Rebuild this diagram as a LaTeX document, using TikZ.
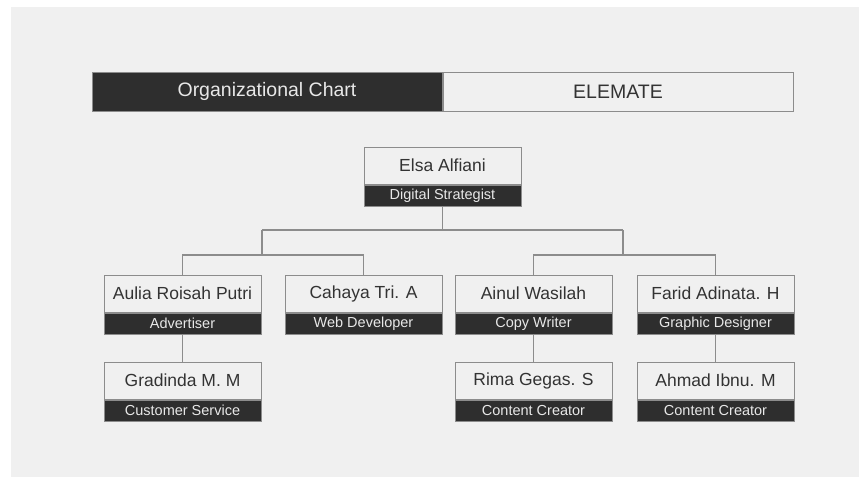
\documentclass[tikz,border=0pt]{standalone}
\usepackage{fontspec}
\setmainfont{Liberation Sans}
\usetikzlibrary{positioning}
\definecolor{panel}{HTML}{F0F0F0}
\definecolor{ink}{HTML}{333333}
\definecolor{dark}{HTML}{2E2E2E}
\definecolor{edge}{HTML}{8C8C8C}
\definecolor{pale}{HTML}{E8E8E8}

\begin{document}
\begin{tikzpicture}[x=1pt, y=-1pt, line width=1pt]
        \tikzstyle{persbox}=[draw=edge, fill=panel, text=ink, minimum width=157pt, minimum height=37pt, inner sep=0pt, font=\fontsize{17.5}{19}\selectfont]
        \tikzstyle{rolebox}=[draw=edge, fill=dark, text=pale, minimum width=157pt, minimum height=21pt, inner sep=0pt, font=\fontsize{14.5}{16}\selectfont]
        \tikzstyle{headbox}=[draw=edge, minimum width=350pt, minimum height=39pt, inner sep=0pt, font=\fontsize{19.5}{21}\selectfont]
        \tikzstyle{link}=[draw=edge, line width=1.1pt]

        % page and panel
        \fill[white] (0,0) rectangle (859,477);
        \fill[panel] (11,7) rectangle (859,477);

        % header bar
        \node[headbox, fill=dark, text=pale](title) at (267,91.5){Organizational Chart};
        \node[headbox, fill=panel, text=ink, right=0pt of title](brand){ELEMATE};

        % top
        \node[persbox](elsa) at (442.5,165.5){Elsa Alfiani};
        \node[rolebox, below=0pt of elsa](elsaR){Digital Strategist};

        % second row
        \node[persbox](aulia) at (182.5,293.5){Aulia Roisah Putri};
        \node[rolebox, below=0pt of aulia](auliaR){Advertiser};
        \node[persbox](cahaya) at (363.5,293.5){Cahaya Tri. A};
        \node[rolebox, below=0pt of cahaya](cahayaR){Web Developer};
        \node[persbox](ainul) at (533.5,293.5){Ainul Wasilah};
        \node[rolebox, below=0pt of ainul](ainulR){Copy Writer};
        \node[persbox](farid) at (715.5,293.5){Farid Adinata. H};
        \node[rolebox, below=0pt of farid](faridR){Graphic Designer};

        % third row
        \node[persbox](gradinda) at (182.5,380.5){Gradinda M. M};
        \node[rolebox, below=0pt of gradinda](gradindaR){Customer Service};
        \node[persbox](rima) at (533.5,380.5){Rima Gegas. S};
        \node[rolebox, below=0pt of rima](rimaR){Content Creator};
        \node[persbox](ahmad) at (715.5,380.5){Ahmad Ibnu. M};
        \node[rolebox, below=0pt of ahmad](ahmadR){Content Creator};

        \coordinate (top) at (442.5,230);
        \coordinate (left) at (262,230);
        \coordinate (right) at (623,230);
        \coordinate (leftB) at (262,255);
        \coordinate (rightB) at (623,255);

        \draw[link] (elsaR) -- (top);
        \draw[link] (left) -- (right);
        \draw[link] (left) -- (leftB);
        \draw[link] (right) -- (rightB);
        \draw[link] (aulia.north) |- (leftB) -| (cahaya.north);
        \draw[link] (ainul.north) |- (rightB) -| (farid.north);

        \draw[link] (auliaR) -- (gradinda);
        \draw[link] (ainulR) -- (rima);
        \draw[link] (faridR) -- (ahmad);

        \end{tikzpicture}
\end{document}
